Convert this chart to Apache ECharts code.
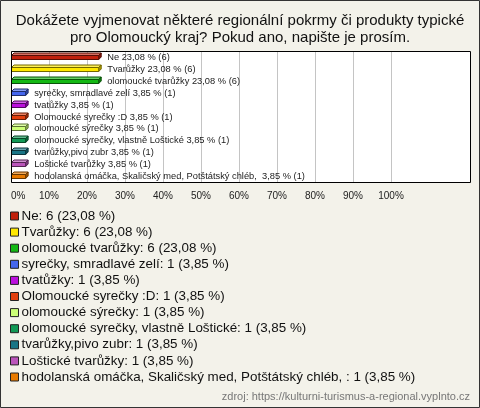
<!DOCTYPE html>
<html><head><meta charset="utf-8">
<script src="https://cdn.jsdelivr.net/npm/echarts@6/dist/echarts.min.js"></script>
<style>html,body{margin:0;padding:0;background:#f3f2ea}#c{width:480px;height:408px}</style>
</head><body><div id="c"></div>
<script>
const categories = [
  "Ne",
  "Tvarůžky",
  "olomoucké tvarůžky",
  "syrečky, smradlavé zelí",
  "tvatůžky",
  "Olomoucké syrečky :D",
  "olomoucké sýrečky",
  "olomoucké syrečky, vlastně Loštické",
  "tvarůžky,pivo zubr",
  "Loštické tvarůžky",
  "hodolanská omáčka, Skaličský med, Potštátský chléb, "
];
const counts = [6, 6, 6, 1, 1, 1, 1, 1, 1, 1, 1];
const percents = [23.08, 23.08, 23.08, 3.85, 3.85, 3.85, 3.85, 3.85, 3.85, 3.85, 3.85];
const colors = ["#c0200c", "#ffe800", "#14b814", "#4466ee", "#bb11dd", "#e2400f", "#ccff77", "#119955", "#1a7586", "#bb55bb", "#e87a00"];
const xTickValues = [0, 10, 20, 30, 40, 50, 60, 70, 80, 90, 100];
const titleText = "Dokážete vyjmenovat některé regionální pokrmy či produkty typické\npro Olomoucký kraj? Pokud ano, napište je prosím.";
const sourceText = "zdroj: https://kulturni-turismus-a-regional.vyplnto.cz";

const FONT = "Liberation Sans, Arial, sans-serif";
function fmt(p) { return p.toFixed(2).replace('.', ','); }
function mix(hex, t, target) {
  const n = parseInt(hex.slice(1), 16);
  const r = (n >> 16) & 255, g = (n >> 8) & 255, b = n & 255;
  const f = c => Math.round(c + (target - c) * t);
  return 'rgb(' + f(r) + ',' + f(g) + ',' + f(b) + ')';
}

const chart = echarts.init(document.getElementById('c'), null, {renderer: 'canvas'});

const series = categories.map((name, i) => ({
  type: 'custom',
  name: name,
  itemStyle: {color: colors[i]},
  data: [[percents[i], i]],
  renderItem: function (params, api) {
    const v = api.value(0), c = api.value(1);
    const p0 = api.coord([0, c]);
    const p1 = api.coord([v, c]);
    const d = 2.5, h = 4;
    const x0 = p0[0] + 0.5, x1 = p1[0];
    const yc = Math.round(p0[1]);
    const yf = yc - 1.5;
    const col = colors[i];
    const stroke = mix(col, 0.55, 0);
    return {
      type: 'group',
      children: [
        {type: 'polygon', shape: {points: [[x0, yf], [x0 + d, yf - d], [x1 + d, yf - d], [x1, yf]]},
          style: {fill: mix(col, 0.35, 255), stroke: stroke, lineWidth: 1}},
        {type: 'polygon', shape: {points: [[x1, yf], [x1 + d, yf - d], [x1 + d, yf - d + h], [x1, yf + h]]},
          style: {fill: mix(col, 0.3, 0), stroke: stroke, lineWidth: 1}},
        {type: 'rect', shape: {x: x0, y: yf, width: x1 - x0, height: h},
          style: {fill: col, stroke: stroke, lineWidth: 1}},
        {type: 'text', style: {text: name + ' ' + fmt(percents[i]) + ' % (' + counts[i] + ')',
          x: x1 + d + 6, y: yc, verticalAlign: 'middle', align: 'left',
          fontSize: 9.3, fontFamily: FONT, fill: '#222'}}
      ]
    };
  }
}));

chart.setOption({
  backgroundColor: '#f3f2ea',
  animation: false,
  title: [{
    text: titleText, left: 240, top: 12, textAlign: 'center', padding: 0,
    textStyle: {fontSize: 15, fontWeight: 'normal', color: '#111', fontFamily: FONT, lineHeight: 17, align: 'center'}
  }, {
    text: sourceText, right: 10, top: 390, padding: 0,
    textStyle: {fontSize: 11, fontWeight: 'normal', color: '#777', fontFamily: FONT, lineHeight: 14}
  }],
  grid: {left: 11, right: 89, top: 51, bottom: 226, containLabel: false},
  xAxis: {
    type: 'value', min: 0, max: 100, interval: 10,
    axisLine: {show: false}, axisTick: {show: false},
    splitLine: {show: true, lineStyle: {color: '#c4c4c4', width: 1}},
    axisLabel: {margin: 9, fontSize: 10, color: '#222', fontFamily: FONT, alignMinLabel: 'left',
      formatter: v => (xTickValues.indexOf(v) >= 0 ? v + '%' : '')}
  },
  yAxis: {
    type: 'category', data: categories, inverse: true,
    axisLine: {show: false}, axisTick: {show: false}, axisLabel: {show: false}, splitLine: {show: false}
  },
  legend: {
    orient: 'vertical', left: 10, top: 208, padding: 0, icon: 'rect', itemWidth: 8, itemHeight: 8, itemGap: 0.1,
    selectedMode: false,
    itemStyle: {borderColor: '#222', borderWidth: 1},
    textStyle: {fontSize: 13.4, color: '#111', fontFamily: FONT, lineHeight: 16, padding: [0, 0, 0, -2]},
    formatter: name => {
      const i = categories.indexOf(name);
      return name + ': ' + counts[i] + ' (' + fmt(percents[i]) + ' %)';
    },
    data: categories
  },
  graphic: [
    {type: 'rect', z: -10, shape: {x: 11.5, y: 51.5, width: 459, height: 131}, style: {fill: '#fff', stroke: null}},
    {type: 'rect', z: 100, shape: {x: 11.5, y: 51.5, width: 459, height: 131}, style: {fill: null, stroke: '#000', lineWidth: 1}},
    {type: 'rect', z: 100, shape: {x: 0.5, y: 0.5, width: 479, height: 407}, style: {fill: null, stroke: '#333', lineWidth: 1}}
  ],
  series: series
});
</script></body></html>
